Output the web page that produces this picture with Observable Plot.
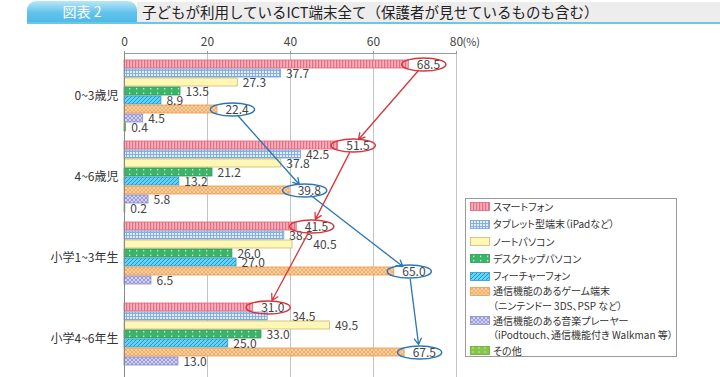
<!DOCTYPE html>
<html>
<head>
<meta charset="utf-8">
<script src="https://cdn.jsdelivr.net/npm/d3@7"></script>
<script src="https://cdn.jsdelivr.net/npm/@observablehq/plot@0.6"></script>
<style>
  html, body { margin: 0; padding: 0; background: #fff; }
  body { width: 720px; height: 377px; position: relative; overflow: hidden;
         font-family: "Noto Sans CJK JP", "Noto Sans", sans-serif; color: #333; }
  #header { position: relative; height: 28px; }
  #tab { position: absolute; left: 27px; top: 1px; width: 110px; height: 21px;
         border-radius: 9px 9px 0 0; background: linear-gradient(#b9e7f8, #62c3ec 55%, #4fb9e8);
         color: #fff; font-size: 14px; line-height: 21px; text-align: center; }
  #band { position: absolute; left: 137px; top: 2px; right: 0; height: 20px; background: #ededed; }
  #title { position: absolute; left: 142px; top: 1px; font-size: 14.5px; line-height: 21px; color: #222; white-space: nowrap; }
  #rule { position: absolute; left: 27px; right: 0; top: 22px; height: 2px; background: #6cc6e6; }
  #legend { position: absolute; left: 465px; top: 198px; width: 212px; height: 159px;
            border: 1px solid #9a9a9a; background: #fff; box-sizing: border-box; font-size: 10px; color: #333;
            font-feature-settings: "palt"; }
  .item { position: absolute; left: 4px; display: flex; align-items: flex-start; }
  .item svg { flex: none; margin-top: 2.8px; }
  .item .lab { margin-left: 3px; line-height: 14.6px; white-space: nowrap; }
</style>
</head>
<body>
<div id="header">
  <div id="band"></div>
  <div id="tab">図表 2</div>
  <div id="title">子どもが利用しているICT端末全て（保護者が見せているものも含む）</div>
  <div id="rule"></div>
</div>
<div id="chart"></div>
<div id="legend"></div>
<svg width="0" height="0" style="position:absolute">
  <defs>
    <pattern id="p0" width="3" height="3" patternUnits="userSpaceOnUse">
      <rect width="3" height="3" fill="#f8b0bb"/>
      <rect x="0" width="1.2" height="3" fill="#e66d83"/>
    </pattern>
    <pattern id="p1" width="3" height="3" patternUnits="userSpaceOnUse">
      <rect width="3" height="3" fill="#e2edfb"/>
      <rect x="0" width="0.9" height="3" fill="#7fa9e0"/>
      <rect y="0" width="3" height="0.9" fill="#7fa9e0"/>
    </pattern>
    <pattern id="p2" width="4" height="4" patternUnits="userSpaceOnUse">
      <rect width="4" height="4" fill="#fff7b5"/>
    </pattern>
    <pattern id="p3" width="7" height="4.5" patternUnits="userSpaceOnUse">
      <rect width="7" height="4.5" fill="#3bb46a"/>
      <rect x="3" y="1.6" width="1.3" height="1.3" fill="#e8f8ec"/>
    </pattern>
    <pattern id="p4" width="4" height="4" patternUnits="userSpaceOnUse">
      <rect width="4" height="4" fill="#66d2f4"/>
      <path d="M-1,1 L1,-1 M0,4 L4,0 M3,5 L5,3" stroke="#1f96d2" stroke-width="1"/>
    </pattern>
    <pattern id="p5" width="4" height="4" patternUnits="userSpaceOnUse">
      <rect width="4" height="4" fill="#fcd2a2"/>
      <path d="M0,0 L4,4 M4,0 L0,4" stroke="#f2a45e" stroke-width="0.8"/>
    </pattern>
    <pattern id="p6" width="4" height="4" patternUnits="userSpaceOnUse">
      <rect width="4" height="4" fill="#d2d2f2"/>
      <path d="M0,0 L4,4 M4,0 L0,4" stroke="#8d8dd2" stroke-width="0.8"/>
    </pattern>
    <pattern id="p7" width="6" height="4" patternUnits="userSpaceOnUse">
      <rect width="6" height="4" fill="#86c44a"/>
      <rect x="2" y="1.5" width="2" height="1" fill="#c9e7a6"/>
    </pattern>
  </defs>
</svg>
<script>
// ---- data ----
const groups = ["0~3歳児", "4~6歳児", "小学1~3年生", "小学4~6年生"];
const categories = ["スマートフォン", "タブレット型端末", "ノートパソコン", "デスクトップパソコン",
  "フィーチャーフォン", "通信機能のあるゲーム端末", "通信機能のある音楽プレーヤー", "その他"];
const legendLabels = [
  ["スマートフォン"],
  ["タブレット型端末（iPadなど）"],
  ["ノートパソコン"],
  ["デスクトップパソコン"],
  ["フィーチャーフォン"],
  ["通信機能のあるゲーム端末", "（ニンテンドー 3DS、PSP など）"],
  ["通信機能のある音楽プレーヤー", "（iPodtouch、通信機能付き Walkman 等）"],
  ["その他"]
];
const age0to3 = [68.5, 37.7, 27.3, 13.5, 8.9, 22.4, 4.5, 0.4];
const age4to6 = [51.5, 42.5, 37.8, 21.2, 13.2, 39.8, 5.8, 0.2];
const grade1to3 = [41.5, 38.5, 40.5, 26.0, 27.0, 65.0, 6.5, null];
const grade4to6 = [31.0, 34.5, 49.5, 33.0, 25.0, 67.5, 13.0, null];
const xTicks = [0, 20, 40, 60, 80];
const highlighted = [{cat: 0, color: "#d9343b"}, {cat: 5, color: "#2a76b6"}];

// ---- styles ----
const fills = categories.map((c, i) => `url(#p${i})`);
const strokes = ["#df6479", "#6f9ed8", "#cdb86a", "#2b9a57", "#2b9bd0", "#e99a52", "#8a8acb", "#68a834"];

// ---- table ----
const series = [age0to3, age4to6, grade1to3, grade4to6];
const keyOf = (g, c) => `${g}|${c}`;
const yDomain = [];
groups.forEach((g, gi) => {
  categories.forEach(c => yDomain.push(keyOf(g, c)));
  if (gi < groups.length - 1) yDomain.push(keyOf(g, "_gap"));
});
const rows = [];
groups.forEach((g, gi) => categories.forEach((c, ci) => {
  const v = series[gi][ci];
  if (v != null) rows.push({group: g, gi, cat: c, ci, value: v, key: keyOf(g, c)});
}));
const hiCats = highlighted.map(h => h.cat);

// ---- simple label collision handling (pixel layout via the x scale) ----
const xScale = Plot.scale({x: {domain: [0, 80], range: [124, 456]}});
const pxPerUnit = (xScale.apply(80) - xScale.apply(0)) / 80;
const LABEL_W = 24, GAP = 5, HI_GAP = 8, ELL_DX = 15, ELL_RX = 22;
rows.forEach((d, i) => {
  const end = xScale.apply(d.value);
  d.hi = hiCats.includes(d.ci);
  if (d.hi) {
    d.left = end + ELL_DX - ELL_RX; d.right = end + ELL_DX + ELL_RX;
    d.labelStart = end + HI_GAP;
    return;
  }
  let start = end + GAP;
  const above = rows[i - 1];
  if (above && above.gi === d.gi) {
    if (above.hi && start > above.left + 2 && start < above.right) start = above.right + 2;
    else if (!above.hi && start > above.labelStart + 6 && start < above.labelStart + LABEL_W) start = above.labelStart + LABEL_W;
  }
  d.labelStart = start; d.left = start; d.right = start + LABEL_W;
});
rows.forEach(d => d.labelX = d.value + (d.labelStart - xScale.apply(d.value)) / pxPerUnit);

const groupLabelRows = groups.map(g => ({group: g, key: keyOf(g, categories[3])}));

const arrows = [];
highlighted.forEach(h => {
  for (let gi = 0; gi < groups.length - 1; gi++) {
    arrows.push({
      x1: series[gi][h.cat], y1: keyOf(groups[gi], categories[h.cat]),
      x2: series[gi + 1][h.cat], y2: keyOf(groups[gi + 1], categories[h.cat]),
      color: h.color
    });
  }
});

const ellipse = {
  draw(context, size) {
    const r = Math.sqrt(size / Math.PI);
    const ry = r, rx = r * 3.4, k = 0.5523;
    context.moveTo(rx, 0);
    context.bezierCurveTo(rx, ry * k, rx * k, ry, 0, ry);
    context.bezierCurveTo(-rx * k, ry, -rx, ry * k, -rx, 0);
    context.bezierCurveTo(-rx, -ry * k, -rx * k, -ry, 0, -ry);
    context.bezierCurveTo(rx * k, -ry, rx, -ry * k, rx, 0);
    context.closePath();
  }
};

const font = "'Noto Sans CJK JP', 'Noto Sans', sans-serif";

const marks = [
  Plot.gridX(xTicks.slice(1), {stroke: "#c4c4c4", strokeOpacity: 1}),
  Plot.frame({anchor: "top", stroke: "#9a9a9a"}),
  Plot.axisX(xTicks, {anchor: "top", tickSize: 3, tickPadding: 5, fontSize: 12, fill: "#444",
    stroke: "#9a9a9a", tickFormat: d => String(d), fontFamily: font}),
  Plot.text(["(%)"], {x: () => 80, frameAnchor: "top", dy: -15, dx: 6, textAnchor: "start",
    fontSize: 11, fill: "#444", fontFamily: font}),
  ...categories.map((c, i) => Plot.barX(rows.filter(d => d.ci === i), {
    x: "value", y: "key", fill: fills[i], stroke: strokes[i], strokeWidth: 0.8
  })),
  Plot.ruleX([0], {stroke: "#888"}),
  Plot.text(rows, {x: "labelX", y: "key", text: d => d.value.toFixed(1), dy: 1,
    textAnchor: "start", fontSize: 12, fill: "#444", fontFamily: font}),
  ...highlighted.map(h => Plot.dot(rows.filter(d => d.ci === h.cat), {
    x: "value", y: "key", dx: ELL_DX, r: 6.5, symbol: ellipse, fill: "none", stroke: h.color, strokeWidth: 1.5
  })),
  Plot.arrow(arrows, {x1: "x1", y1: "y1", x2: "x2", y2: "y2", dx: ELL_DX, stroke: "color",
    strokeWidth: 1.3, headLength: 8, insetStart: 8, insetEnd: 8}),
  Plot.text(groupLabelRows, {x: () => 0, y: "key", text: "group", dx: -6, dy: 4.5,
    textAnchor: "end", fontSize: 12, fill: "#333", fontFamily: font})
];

const chart = Plot.plot({
  width: 720, height: 349,
  marginLeft: 124, marginRight: 264, marginTop: 25, marginBottom: 0,
  style: {fontFamily: font, background: "transparent", overflow: "visible"},
  x: {domain: [0, 80], axis: null},
  y: {domain: yDomain, range: [30, 348], padding: 0.08, axis: null},
  color: {type: "identity"},
  marks
});
document.getElementById("chart").appendChild(chart);

// ---- legend ----
const legend = document.getElementById("legend");
const LINE_H = 14.6;
const firstLineCenters = [207, 224.5, 242, 259, 276.5, 291.5, 321, 351]; // page y of each item's first line
const legendOrigin = 199; // legend content top (page y)
legendLabels.forEach((lines, i) => {
  const item = document.createElement("div");
  item.className = "item";
  item.style.top = (firstLineCenters[i] - legendOrigin - LINE_H / 2) + "px";
  item.innerHTML = `<svg width="20" height="9"><rect x="0.5" y="0.5" width="19" height="8" fill="${fills[i]}" stroke="${strokes[i]}" stroke-width="0.8"/></svg>`
    + `<div class="lab">${lines.join("<br>")}</div>`;
  legend.appendChild(item);
});
</script>
</body>
</html>
